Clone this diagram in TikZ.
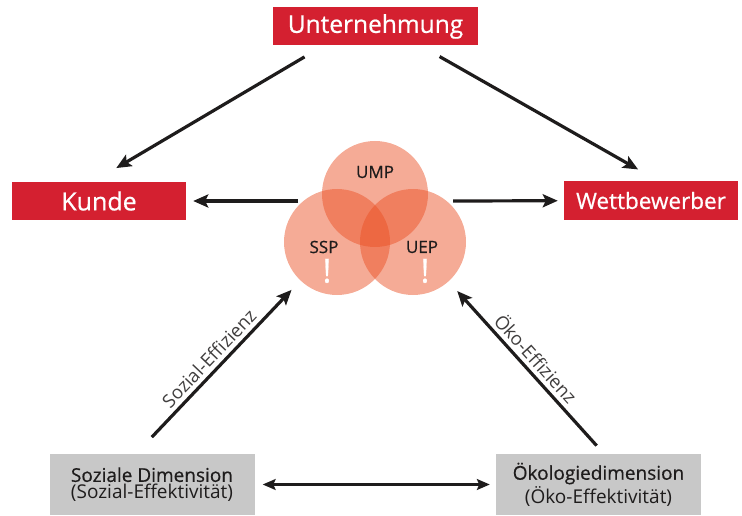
\documentclass[tikz,border=0pt]{standalone}
\usepackage{fontspec}
\setmainfont{Open Sans}
\newfontfamily\medfont[FakeBold=0.6]{Open Sans}
\usetikzlibrary{arrows.meta}

\definecolor{boxred}{RGB}{212,32,48}
\definecolor{boxgray}{RGB}{200,200,200}
\definecolor{venn}{RGB}{234,79,35}
\definecolor{ink}{RGB}{30,28,28}

\tikzset{
  redbox/.style={fill=boxred, text=white, inner sep=0pt, minimum height=38pt},
  graybox/.style={fill=boxgray, text=ink, inner sep=0pt, minimum width=205pt,
    minimum height=61pt, align=center},
  venncirc/.style={circle, fill=venn, fill opacity=0.48, draw=none,
    minimum size=106pt, inner sep=0pt, outer sep=0pt},
  vennlabel/.style={text=ink, font=\medfont\fontsize{17}{20}\selectfont},
  bang/.style={text=white, font=\medfont\fontsize{33}{33}\selectfont},
  arr/.style={draw=ink, line width=3.2pt, -{Stealth[length=15pt,width=13pt,inset=3pt]}},
  arrboth/.style={draw=ink, line width=2.2pt,
    {Stealth[length=13pt,width=11pt,inset=2.5pt]}-{Stealth[length=13pt,width=11pt,inset=2.5pt]}},
  efflabel/.style={text=ink!85, inner sep=4pt, font=\fontsize{18.5}{20}\selectfont},
}

\begin{document}
\begin{tikzpicture}[x=1pt, y=-1pt]
\useasboundingbox (0,0) rectangle (742,516);

% boxes
\node[redbox, minimum width=205pt, font=\medfont\fontsize{24.5}{26}\selectfont] (unt) at (375.5,26.5) {Unternehmung};
\node[redbox, minimum width=174pt, font=\medfont\fontsize{25}{26}\selectfont] (kunde) at (99,201) {Kunde};
\node[redbox, minimum width=174pt, font=\medfont\fontsize{22.5}{26}\selectfont] (wett) at (651,200.5) {Wettbewerber};
\node[graybox] (soz) at (152,484.5)
  {{\medfont\fontsize{19}{22}\selectfont Soziale Dimension}\\[1pt]
   {\fontsize{19}{22}\selectfont (Sozial-Effektivität)}};
\node[graybox] (oeko) at (598.5,484.5)
  {{\medfont\fontsize{19}{22}\selectfont Ökologiedimension}\\[1pt]
   {\fontsize{19}{22}\selectfont (Öko-Effektivität)}};

% venn
\node[venncirc] (ump) at (375,194) {};
\node[venncirc] (ssp) at (337,242) {};
\node[venncirc] (uep) at (413,242) {};
\node[vennlabel] (ump-t) at (375,172) {UMP};
\node[vennlabel] (ssp-t) at (324,247) {SSP};
\node[vennlabel] (uep-t) at (422,247) {UEP};
\node[bang] (ssp-b) at (327,271) {!};
\node[bang] (uep-b) at (425,271) {!};

\coordinate (c-left) at (298,201);
\coordinate (c-right) at (453,201);

% arrows
\draw[arr, shorten <=22pt, shorten >=27pt] ([xshift=-52pt]unt.south) -- ([xshift=-6pt]kunde.north);
\draw[arr, shorten <=22pt, shorten >=24pt] ([xshift=45pt]unt.south) -- ([xshift=8pt]wett.north);
\draw[arr, shorten >=7pt] (c-left) -- (kunde);
\draw[arr, shorten >=6pt] (c-right) -- (wett);
\draw[arr, shorten <=23pt, shorten >=13pt] ([xshift=-16pt]soz.north) -- node[midway, above, sloped, efflabel] {Sozial-Effizienz} (ssp);
\draw[arr, shorten <=11pt, shorten >=13pt] ([xshift=5.5pt]oeko.north) -- node[midway, above, sloped, efflabel] {Öko-Effizienz} (uep);
\draw[arrboth, shorten <=8pt, shorten >=6pt] (soz) -- (oeko);
\end{tikzpicture}
\end{document}
